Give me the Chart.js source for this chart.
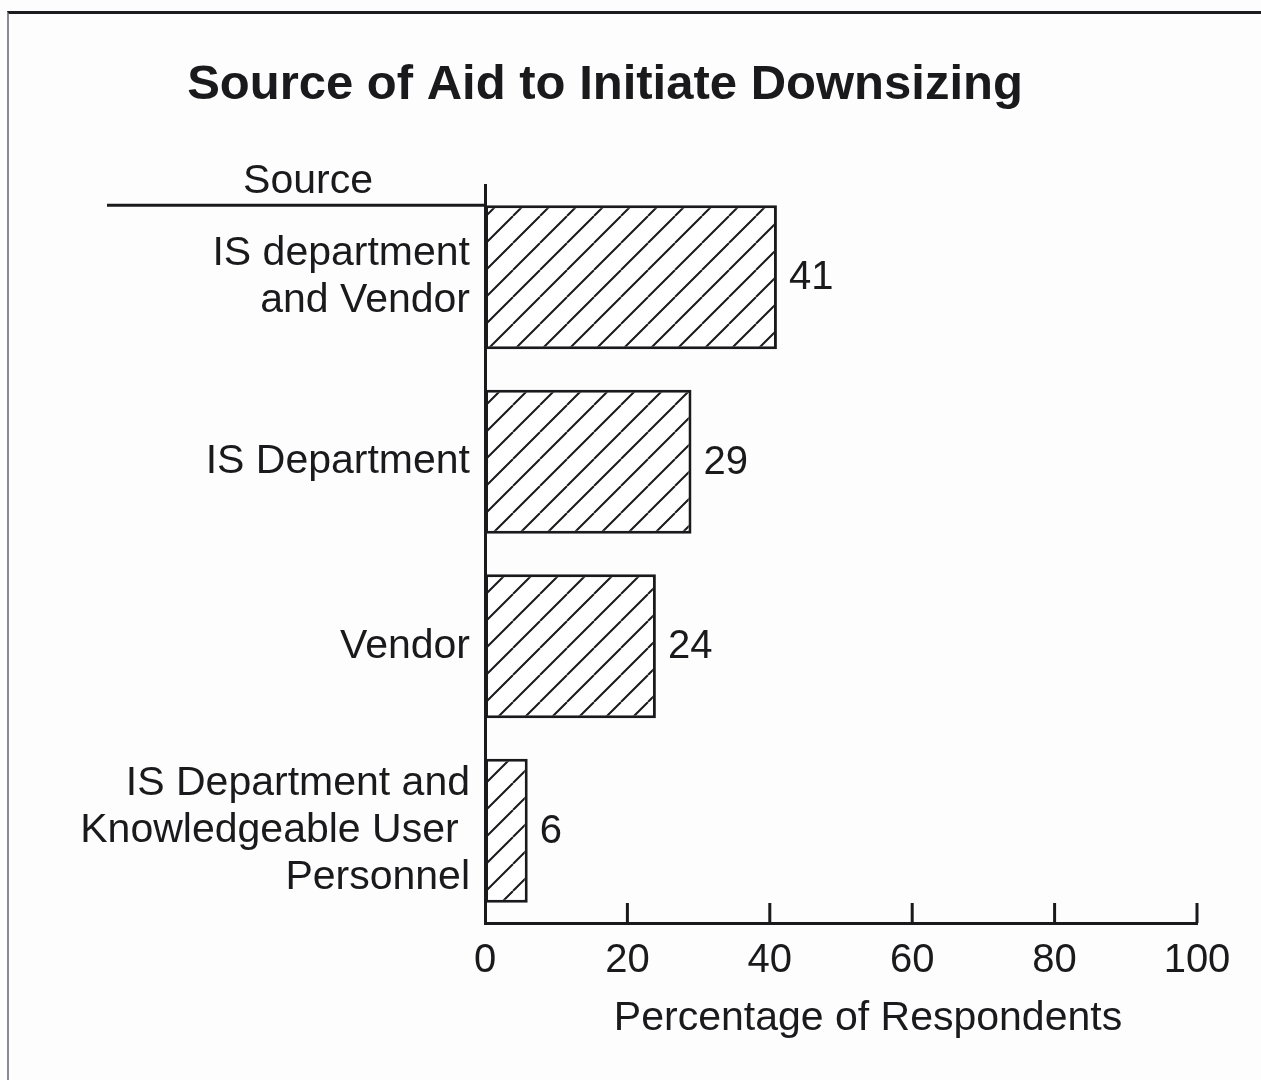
<!DOCTYPE html>
<html>
<head>
<meta charset="utf-8">
<title>Source of Aid to Initiate Downsizing</title>
<script src="https://cdn.jsdelivr.net/npm/chart.js@4.4.1/dist/chart.umd.min.js"></script>
<style>
  html, body { margin: 0; padding: 0; background: #fdfdfe; }
  #wrap { position: relative; width: 1261px; height: 1080px; overflow: hidden; }
  #frame {
    position: absolute; left: 7px; top: 11px; right: -10px; bottom: -10px;
    border-top: 3px solid #1c1c1e; border-left: 2px solid #8a8a90;
    pointer-events: none;
  }
</style>
</head>
<body>
<div id="wrap">
  <canvas id="chart" width="1261" height="1080"></canvas>
  <div id="frame"></div>
</div>
<script>
// Survey results: where respondents got help to start downsizing
const sources = [
  ["IS department", "and Vendor"],
  ["IS Department"],
  ["Vendor"],
  ["IS Department and", "Knowledgeable User ", "Personnel"],
];
const percents = [41, 29, 24, 6];
const xTickValues = [0, 20, 40, 60, 80, 100];

const TITLE = "Source of Aid to Initiate Downsizing";
const Y_HEADER = "Source";
const X_TITLE = "Percentage of Respondents";

const FONT = "'Liberation Sans', Arial, Helvetica, sans-serif";
const INK = "#1a1a1c";

Chart.defaults.font.family = FONT;
Chart.defaults.color = INK;

// "/" hatching for the bars
function hatchPattern() {
  const step = 27;
  const tile = document.createElement("canvas");
  tile.width = step;
  tile.height = step;
  const c = tile.getContext("2d");
  c.fillStyle = "#ffffff";
  c.fillRect(0, 0, step, step);
  c.strokeStyle = INK;
  c.lineWidth = 2;
  c.beginPath();
  for (let k = -1; k <= 1; k++) {
    c.moveTo(k * step, step);
    c.lineTo(k * step + step, 0);
  }
  c.stroke();
  return c.createPattern(tile, "repeat");
}

// title, "Source" header rule, inward x ticks and bar value labels
const decorations = {
  id: "decorations",
  afterDraw(chart) {
    const { ctx, chartArea } = chart;
    const x = chart.scales.x;
    const bars = chart.getDatasetMeta(0).data;
    ctx.save();
    ctx.fillStyle = INK;
    ctx.strokeStyle = INK;

    ctx.font = "bold 49px " + FONT;
    ctx.textAlign = "center";
    ctx.textBaseline = "alphabetic";
    ctx.fillText(TITLE, 605, 99);

    ctx.font = "41px " + FONT;
    ctx.fillText(Y_HEADER, 308, 193);

    // rule under the header, level with the top of the first bar
    const first = bars[0];
    const ruleY = first.y - first.height / 2;
    ctx.lineWidth = 3;
    ctx.beginPath();
    ctx.moveTo(107, ruleY);
    ctx.lineTo(chartArea.left, ruleY);
    ctx.stroke();

    // tick marks point up into the plot
    ctx.lineWidth = 3;
    ctx.beginPath();
    xTickValues.slice(1).forEach((v) => {
      const px = x.getPixelForValue(v);
      ctx.moveTo(px, chartArea.bottom);
      ctx.lineTo(px, chartArea.bottom - 20);
    });
    ctx.stroke();

    ctx.font = "41px " + FONT;
    ctx.textAlign = "center";
    ctx.fillText(X_TITLE, 868, 1030);

    ctx.font = "40px " + FONT;
    ctx.textAlign = "left";
    ctx.textBaseline = "middle";
    bars.forEach((bar, i) => {
      ctx.fillText(String(percents[i]), bar.x + 12, bar.y + 1);
    });
    ctx.restore();
  },
};

new Chart(document.getElementById("chart"), {
  type: "bar",
  data: {
    labels: sources,
    datasets: [{
      data: percents,
      backgroundColor: hatchPattern(),
      borderColor: INK,
      borderWidth: 3,
      borderSkipped: false,
      barPercentage: 0.78,
      categoryPercentage: 1,
    }],
  },
  options: {
    indexAxis: "y",
    responsive: false,
    animation: false,
    layout: { padding: { top: 185, right: 64, left: 0, bottom: 0 } },
    plugins: {
      legend: { display: false },
      tooltip: { enabled: false },
    },
    scales: {
      x: {
        min: 0,
        max: 100,
        afterBuildTicks: (s) => { s.ticks = xTickValues.map((v) => ({ value: v })); },
        afterFit: (s) => { s.height = 157; },
        grid: { display: false, drawTicks: false },
        border: { display: true, color: INK, width: 3 },
        ticks: { font: { size: 40 }, color: INK, padding: 14, maxRotation: 0 },
      },
      y: {
        afterFit: (s) => { s.width = 485; },
        grid: { display: false, drawTicks: false },
        border: { display: true, color: INK, width: 3 },
        ticks: { font: { size: 41, lineHeight: 1.15 }, color: INK, padding: 15 },
      },
    },
  },
  plugins: [decorations],
});
</script>
</body>
</html>
